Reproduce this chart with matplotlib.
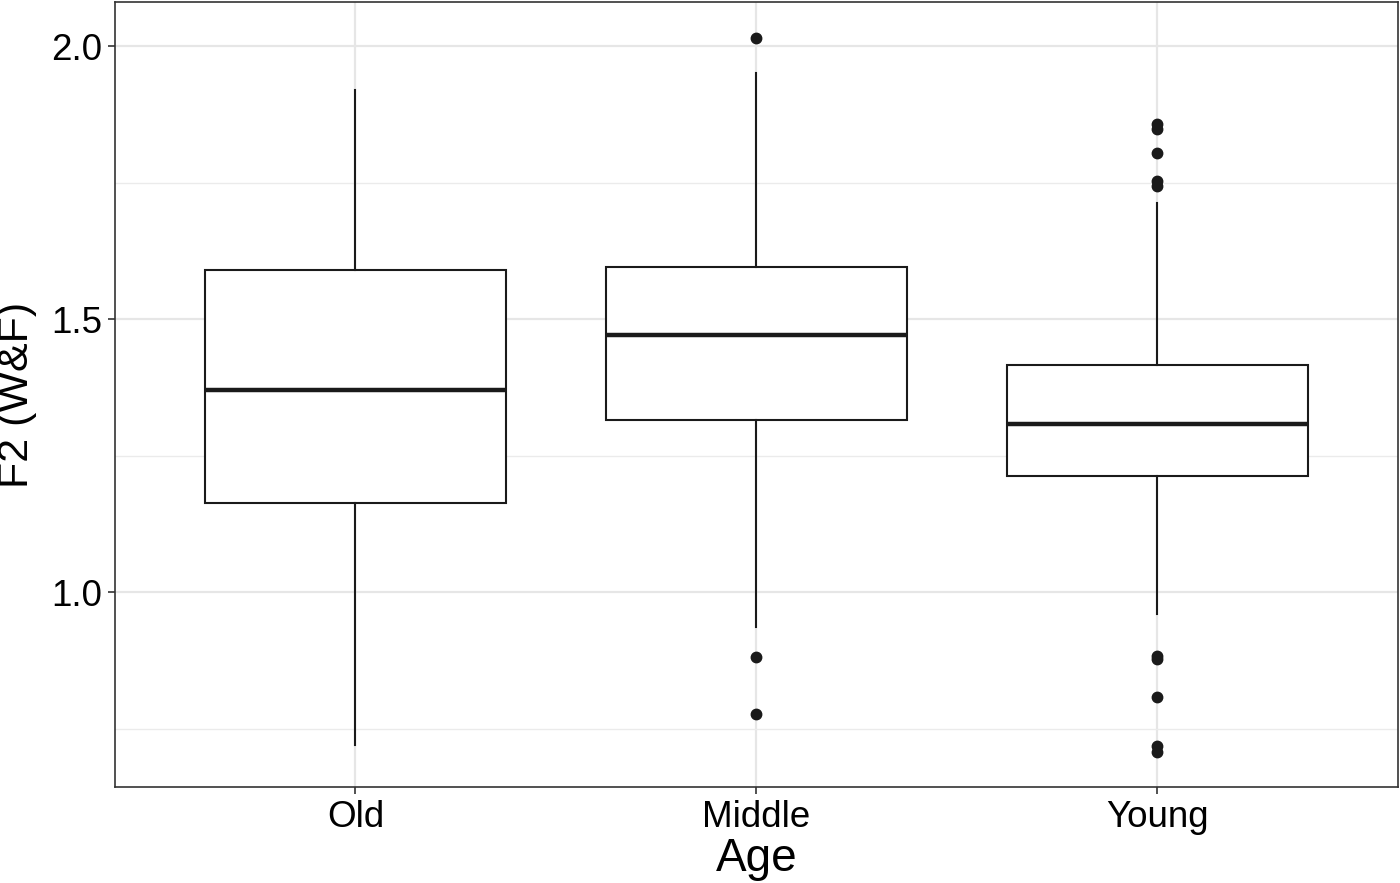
import matplotlib.pyplot as plt
from matplotlib.ticker import MultipleLocator

plt.rcParams['font.family'] = ['Liberation Sans', 'DejaVu Sans']

groups = ['Old', 'Middle', 'Young']
whislo = [0.720, 0.936, 0.960]
q1 = [1.163, 1.315, 1.212]
med = [1.370, 1.471, 1.308]
q3 = [1.590, 1.595, 1.416]
whishi = [1.919, 1.951, 1.712]
fliers = [
    [],
    [2.016, 0.881, 0.777],
    [1.857, 1.848, 1.804, 1.753, 1.744, 0.883, 0.877, 0.808, 0.718, 0.707],
]

stats = []
for i, g in enumerate(groups):
    stats.append({'label': g, 'whislo': whislo[i], 'q1': q1[i], 'med': med[i],
                  'q3': q3[i], 'whishi': whishi[i], 'fliers': fliers[i]})

fig = plt.figure(figsize=(14, 8.83), dpi=100)
ax = fig.add_axes([0.0821, 0.1087, 0.9164, 0.889])

ink = '#1a1a1a'
ax.bxp(stats, positions=[1, 2, 3], widths=0.75, showcaps=False,
       patch_artist=True,
       boxprops=dict(facecolor='white', edgecolor=ink, linewidth=1.5),
       whiskerprops=dict(color=ink, linewidth=1.5),
       medianprops=dict(color=ink, linewidth=3.2),
       flierprops=dict(marker='o', markerfacecolor=ink, markeredgecolor=ink,
                       markersize=7.5, linestyle='none'),
       zorder=3)

ax.set_xlim(0.4, 3.6)
ax.set_ylim(0.643, 2.081)
ax.yaxis.set_minor_locator(MultipleLocator(0.25))
ax.set_yticks([1.0, 1.5, 2.0])
ax.set_yticklabels(['1.0', '1.5', '2.0'])
ax.grid(which='major', color='#e6e6e6', linewidth=1.6, zorder=0)
ax.grid(which='minor', axis='y', color='#ebebeb', linewidth=1.0, zorder=0)
ax.set_axisbelow(True)
ax.tick_params(which='minor', length=0)
ax.tick_params(which='major', length=5, width=1.2, color='#333333',
               labelsize=26.5, labelcolor='black', pad=4)

for s in ax.spines.values():
    s.set_color('#333333')
    s.set_linewidth(1.2)

ax.set_xlabel('Age', fontsize=33, labelpad=2)
ax.set_ylabel('F2 (W&F)', fontsize=31)
ax.yaxis.set_label_coords(-0.0605, 0.5)

fig.savefig('out.png', dpi=100)
